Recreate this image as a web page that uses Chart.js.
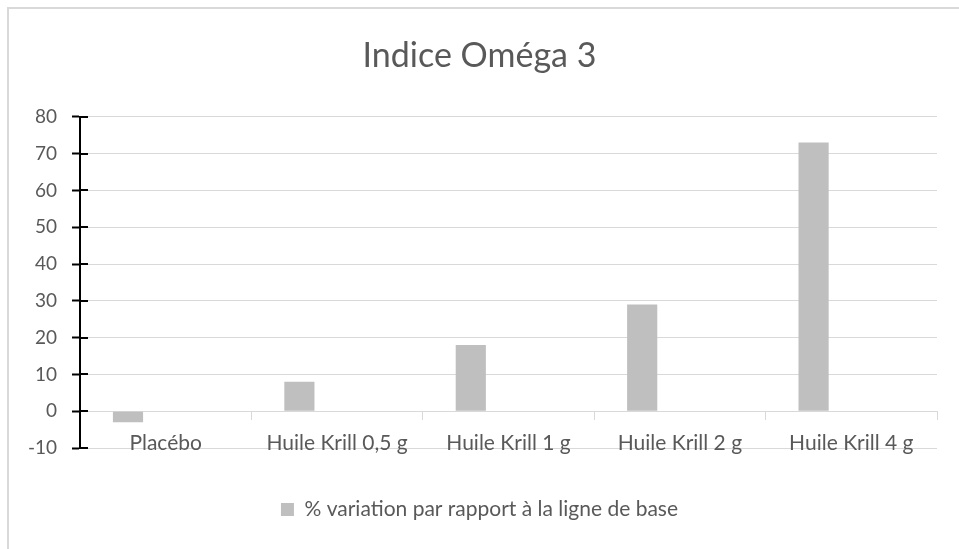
<!DOCTYPE html>
<html lang="fr">
<head>
<meta charset="utf-8">
<title>Indice Oméga 3</title>
<script src="https://cdn.jsdelivr.net/npm/chart.js@4/dist/chart.umd.min.js"></script>
<style>
  html, body { margin: 0; padding: 0; background: #fff; overflow: hidden; }
  .frame {
    position: absolute; left: 7px; top: 7px;
    width: 2000px; height: 2000px;
    border: 2px solid #d9d9d9;
  }
  #omegaChart { position: absolute; left: 0; top: 0; }
</style>
</head>
<body>
<div class="frame"></div>
<canvas id="omegaChart" width="959" height="549"></canvas>
<script>
// Data
const categories = ['Placébo', 'Huile Krill 0,5 g', 'Huile Krill 1 g', 'Huile Krill 2 g', 'Huile Krill 4 g'];
const variationValues = [-3, 8, 18, 29, 73];
const emptySeries = [null, null, null, null, null]; // second (empty) Excel series, keeps the bars on the left
const yTicks = [-10, 0, 10, 20, 30, 40, 50, 60, 70, 80];

const textColor = '#595959';
const gridColor = '#d9d9d9';
const barColor = '#bfbfbf';
const fontFamily = 'Lato, "Open Sans", sans-serif';

// Black tick marks that cross the value axis (Chart.js only draws the outer half)
const crossTicks = {
  id: 'crossTicks',
  afterDraw(chart) {
    const y = chart.scales.y;
    const ctx = chart.ctx;
    ctx.save();
    ctx.strokeStyle = '#000';
    ctx.lineWidth = 2;
    y.ticks.forEach((t, i) => {
      const py = Math.round(y.getPixelForTick(i));
      ctx.beginPath();
      ctx.moveTo(y.right, py);
      ctx.lineTo(y.right + 8, py);
      ctx.stroke();
    });
    ctx.restore();
  }
};

const ctx = document.getElementById('omegaChart').getContext('2d');
new Chart(ctx, {
  type: 'bar',
  data: {
    labels: categories,
    datasets: [{
      label: '% variation par rapport à la ligne de base',
      data: variationValues,
      backgroundColor: barColor,
      categoryPercentage: 0.88,
      barPercentage: 0.4
    }, {
      label: 'vide',
      data: emptySeries,
      backgroundColor: barColor,
      categoryPercentage: 0.88,
      barPercentage: 0.4
    }]
  },
  options: {
    responsive: false,
    animation: false,
    layout: { padding: { top: 36, right: 0, bottom: 19, left: 0 } },
    scales: {
      x: {
        grid: { display: false },
        border: { display: false },
        ticks: {
          color: textColor,
          font: { family: fontFamily, size: 21 },
          mirror: true, // labels sit just above the -10 line, like Excel's "low" labels
          padding: -8,
          maxRotation: 0,
          autoSkip: false
        },
        afterFit: s => { s.height = 41; }
      },
      // horizontal axis line drawn at zero, with its tick marks between categories
      x0: {
        type: 'category',
        position: { y: 0 },
        offset: true,
        grid: { drawOnChartArea: false, offset: true, tickLength: 8, color: gridColor, lineWidth: 1 },
        border: { color: gridColor, width: 1 },
        ticks: { display: false }
      },
      y: {
        min: -10,
        max: 80,
        afterBuildTicks: s => { s.ticks = yTicks.map(v => ({ value: v })); },
        grid: { color: gridColor, lineWidth: 1, tickLength: 8, tickColor: '#000', tickWidth: 2 },
        border: { color: '#000', width: 2 },
        ticks: {
          color: textColor,
          font: { family: fontFamily, size: 19 },
          padding: 15
        },
        afterFit: s => { s.width = 80; }
      },
      // empty right margin so title and legend stay centred on the whole canvas
      yRight: {
        position: 'right',
        min: -10,
        max: 80,
        grid: { display: false },
        border: { display: false },
        ticks: { display: false },
        afterFit: s => { s.width = 22; }
      }
    },
    plugins: {
      title: {
        display: true,
        text: 'Indice Oméga 3',
        color: textColor,
        font: { family: fontFamily, size: 34, weight: 'normal' },
        padding: { top: 0, bottom: 40 }
      },
      legend: {
        position: 'bottom',
        labels: {
          color: textColor,
          font: { family: fontFamily, size: 21 },
          boxWidth: 13,
          boxHeight: 13,
          padding: 10,
          filter: item => item.datasetIndex === 0
        }
      },
      tooltip: { enabled: false }
    }
  },
  plugins: [crossTicks]
});
</script>
</body>
</html>
